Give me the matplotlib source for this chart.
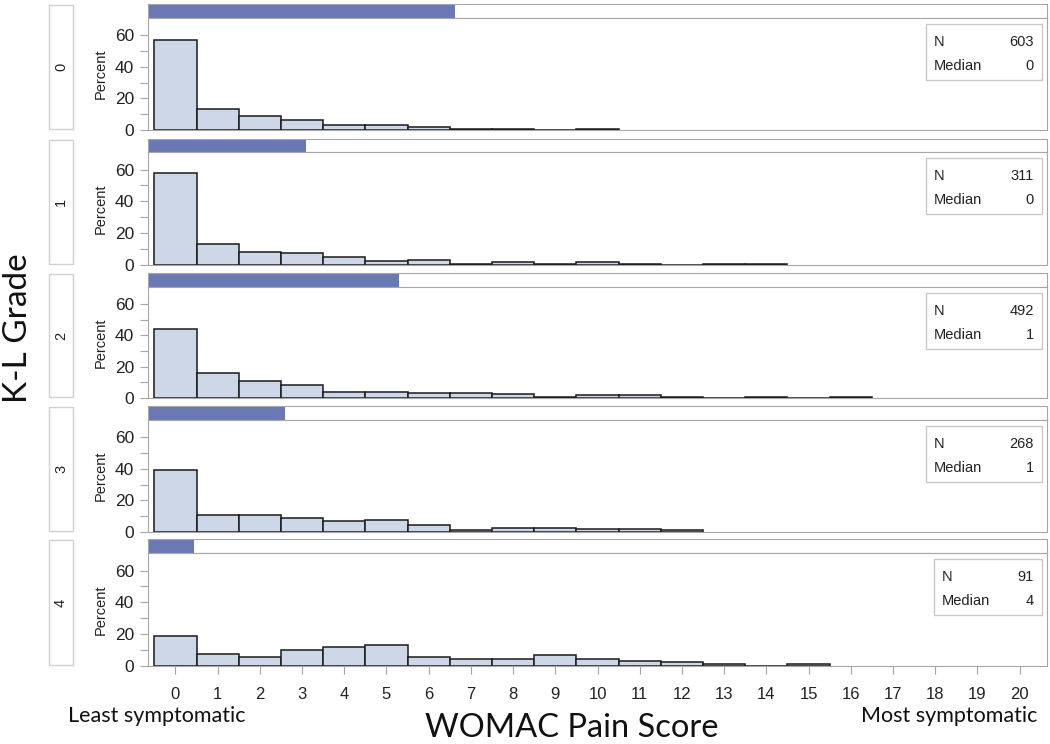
import numpy as np
import matplotlib
matplotlib.use("Agg")
import matplotlib.pyplot as plt
from matplotlib.patches import Rectangle

# K-L grades, counts and medians
grades = ["0", "1", "2", "3", "4"]
n_obs = [603, 311, 492, 268, 91]
medians = [0, 0, 1, 1, 4]

# percent of knees at each WOMAC pain score (0..20)
pct_0 = [56.8, 13.1, 8.8, 6.5, 3.0, 3.2, 1.8, 0.8, 0.8, 0.0, 0.8]
pct_1 = [57.5, 13.2, 8.3, 7.5, 5.0, 2.5, 3.3, 0.8, 1.6, 0.8, 1.6, 0.8, 0.0, 0.8, 0.8]
pct_2 = [44.0, 16.2, 10.6, 8.3, 3.8, 3.8, 3.1, 3.1, 2.3, 0.8, 1.7, 1.7, 0.8, 0.0, 0.8, 0.0, 0.8]
pct_3 = [39.6, 10.5, 10.5, 9.0, 6.9, 7.5, 4.4, 1.0, 2.5, 2.5, 1.7, 1.7, 1.0]
pct_4 = [18.7, 7.7, 5.5, 9.9, 12.1, 13.2, 5.5, 4.4, 4.4, 6.6, 4.4, 3.3, 2.2, 1.1, 0.0, 1.1]
percents = [pct_0, pct_1, pct_2, pct_3, pct_4]

scores = list(range(21))

W, H = 1050, 744
fig = plt.figure(figsize=(W / 100, H / 100), dpi=100)

narrow = ["Liberation Sans Narrow", "Liberation Sans", "DejaVu Sans"]
sans = ["Liberation Sans", "DejaVu Sans"]
gray = "#a6a6a6"
fill = "#cdd7e8"
blue = "#6a79b4"

def fx(px):
    return px / W

def fy(py):
    return 1 - py / H

left, right = 148, 1047
strip_tops = [4, 139, 273, 406, 539]
ax_tops = [18, 152, 287, 420, 553]
ax_bots = [130, 265, 398, 532, 666]
total = sum(n_obs)

for i, g in enumerate(grades):
    # strip with the share of knees in this grade
    sax = fig.add_axes([fx(left), fy(ax_tops[i]), fx(right - left),
                        (ax_tops[i] - strip_tops[i]) / H])
    sax.barh(0, n_obs[i] / total, height=1, color=blue, align="edge")
    sax.set_xlim(0, 1)
    sax.set_ylim(0, 1)
    sax.set_xticks([])
    sax.set_yticks([])
    for s in sax.spines.values():
        s.set_color(gray)

    ax = fig.add_axes([fx(left), fy(ax_bots[i]), fx(right - left),
                       (ax_bots[i] - ax_tops[i]) / H])
    vals = percents[i]
    ax.bar(scores[:len(vals)], vals, width=1, color=fill,
           edgecolor="#1a1a1a", linewidth=1.1)
    ax.set_xlim(-0.65, 20.65)
    ax.set_ylim(0, 71)
    ax.set_yticks([0, 20, 40, 60])
    ax.set_yticks([10, 30, 50], minor=True)
    ax.tick_params(axis="y", which="both", colors=gray, length=6, width=0.8,
                   labelcolor="#222222", labelsize=12.5, pad=4)
    for lab in ax.get_yticklabels():
        lab.set_family(narrow)
    for s in ax.spines.values():
        s.set_color(gray)
    ax.set_ylabel("Percent", fontsize=10.5, family=sans, color="#222222", labelpad=5)
    if i < len(grades) - 1:
        ax.set_xticks([])
    else:
        ax.set_xticks(scores)
        ax.tick_params(axis="x", colors=gray, length=6, width=0.8,
                       labelcolor="#222222", labelsize=12, pad=9)
        for lab in ax.get_xticklabels():
            lab.set_family(narrow)

    # row label box
    y0 = strip_tops[i] + 1
    y1 = ax_bots[i] - 1
    fig.patches.append(Rectangle((fx(49), fy(y1)), fx(24), (y1 - y0) / H,
                                 transform=fig.transFigure, facecolor="white",
                                 edgecolor="#d0d0d0", linewidth=1))
    fig.text(fx(61), fy((y0 + y1) / 2), g, rotation=90, ha="center", va="center",
             fontsize=10.5, family=sans, color="#222222")

    # inset with N and median
    bx0 = 926 if n_obs[i] >= 100 else 934
    by0 = ax_tops[i] + 6
    fig.patches.append(Rectangle((fx(bx0), fy(by0 + 56)), fx(1042 - bx0), 56 / H,
                                 transform=fig.transFigure, facecolor="white",
                                 edgecolor="#c8c8c8", linewidth=1))
    tf = dict(fontsize=10.5, family=sans, color="#222222", va="center")
    fig.text(fx(bx0 + 8), fy(by0 + 18), "N", ha="left", **tf)
    fig.text(fx(1034), fy(by0 + 18), str(n_obs[i]), ha="right", **tf)
    fig.text(fx(bx0 + 8), fy(by0 + 42), "Median", ha="left", **tf)
    fig.text(fx(1034), fy(by0 + 42), str(medians[i]), ha="right", **tf)

big = ["Lato", "DejaVu Sans"]
fig.text(fx(18), fy(328), "K-L Grade", rotation=90, ha="center", va="center",
         fontsize=24, family=big, color="#111111")
fig.text(fx(572), fy(728), "WOMAC Pain Score", ha="center", va="center",
         fontsize=23.5, family=big, color="#111111")
fig.text(fx(68), fy(716), "Least symptomatic", ha="left", va="center",
         fontsize=15.5, family=big, color="#111111")
fig.text(fx(1037), fy(716), "Most symptomatic", ha="right", va="center",
         fontsize=15.5, family=big, color="#111111")

fig.savefig("out.png", dpi=100)
